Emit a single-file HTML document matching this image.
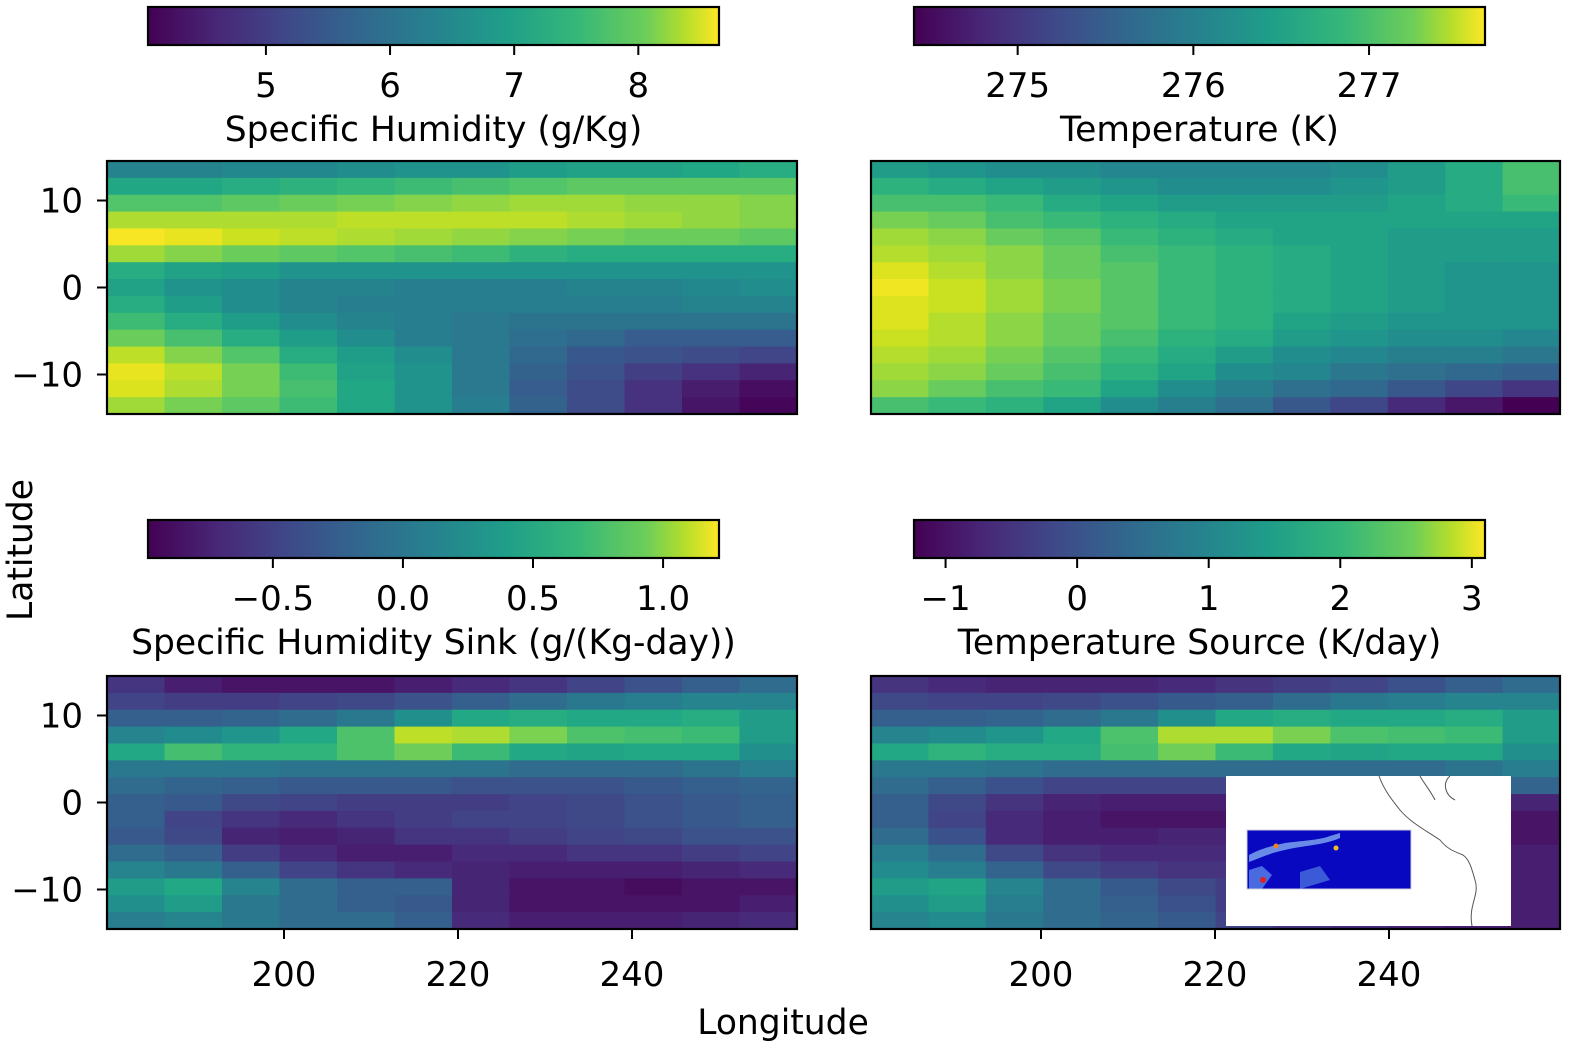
<!DOCTYPE html>
<html><head><meta charset="utf-8">
<style>
html,body{margin:0;padding:0;background:#fff;overflow:hidden;width:1579px;height:1054px;}
svg{display:block;}
svg text{font-family:"DejaVu Sans","Liberation Sans",sans-serif;font-size:34px;fill:#000;}
svg text.lab{font-size:34.5px;}
</style></head>
<body>
<svg id="fig" width="1579" height="1054" viewBox="0 0 1579 1054" xmlns="http://www.w3.org/2000/svg">
<defs>
<linearGradient id="viridisGrad" x1="0" x2="1" y1="0" y2="0">
<stop offset="0" stop-color="#440154"/><stop offset="0.125" stop-color="#482878"/><stop offset="0.25" stop-color="#3e4a89"/><stop offset="0.375" stop-color="#31688e"/><stop offset="0.5" stop-color="#26828e"/><stop offset="0.625" stop-color="#1f9e89"/><stop offset="0.75" stop-color="#35b779"/><stop offset="0.875" stop-color="#6ece58"/><stop offset="0.94" stop-color="#b5de2b"/><stop offset="1" stop-color="#fde725"/>
</linearGradient>
</defs>
<g id="layer"></g>
<text class="lab" x="783" y="1034" text-anchor="middle">Longitude</text>
<text class="lab" x="0" y="0" transform="translate(32,550) rotate(-90)" text-anchor="middle">Latitude</text>
</svg>
<script>
// ---------- data ----------
const humidityTicks = [5, 6, 7, 8];
const humidityRange = [4.05, 8.65];
const humidity = [
[6.1,6.1,6.2,6.2,6.3,6.4,6.4,6.6,6.7,6.7,6.8,6.9],
[6.8,6.8,6.9,7.0,7.1,7.2,7.3,7.4,7.5,7.5,7.5,7.5],
[7.4,7.4,7.5,7.6,7.7,7.8,7.9,8.0,8.0,7.9,7.9,7.8],
[8.1,8.1,8.1,8.1,8.2,8.2,8.2,8.2,8.1,8.0,7.9,7.8],
[8.6,8.5,8.3,8.2,8.1,8.0,7.9,7.8,7.7,7.6,7.6,7.5],
[8.0,7.8,7.6,7.5,7.4,7.3,7.2,7.0,6.9,6.9,6.9,6.9],
[6.9,6.7,6.6,6.4,6.4,6.4,6.4,6.4,6.4,6.4,6.4,6.4],
[6.7,6.4,6.3,6.1,6.1,6.0,6.0,6.0,6.1,6.1,6.2,6.3],
[6.9,6.6,6.3,6.1,6.0,6.0,6.0,6.0,6.0,6.0,6.1,6.1],
[7.2,6.9,6.6,6.3,6.1,6.0,5.9,5.8,5.8,5.8,5.8,5.8],
[7.6,7.3,6.9,6.6,6.3,6.0,5.9,5.7,5.6,5.4,5.4,5.4],
[8.2,7.8,7.4,6.9,6.6,6.3,5.9,5.6,5.3,5.2,5.1,5.0],
[8.5,8.2,7.7,7.2,6.7,6.4,5.9,5.5,5.2,4.9,4.7,4.5],
[8.4,8.1,7.7,7.3,6.8,6.4,5.9,5.4,5.1,4.7,4.4,4.2],
[8.0,7.7,7.5,7.2,6.8,6.4,6.0,5.5,5.1,4.7,4.3,4.1]
];
const temperatureTicks = [275, 276, 277];
const temperatureRange = [274.41, 277.66];
const temperature = [
[276.2,276.1,276.0,276.0,275.9,275.9,275.9,275.9,276.0,276.2,276.4,276.7],
[276.5,276.4,276.3,276.2,276.1,276.0,276.0,276.0,276.1,276.2,276.4,276.7],
[276.7,276.7,276.6,276.4,276.3,276.2,276.2,276.2,276.2,276.3,276.4,276.6],
[277.0,276.9,276.7,276.6,276.5,276.4,276.3,276.3,276.3,276.3,276.3,276.3],
[277.2,277.1,276.9,276.8,276.6,276.5,276.4,276.3,276.3,276.2,276.2,276.2],
[277.3,277.2,277.1,276.9,276.7,276.6,276.5,276.4,276.3,276.2,276.2,276.2],
[277.5,277.3,277.1,276.9,276.8,276.6,276.5,276.4,276.3,276.2,276.1,276.1],
[277.6,277.4,277.2,277.0,276.8,276.6,276.5,276.4,276.3,276.2,276.1,276.1],
[277.5,277.4,277.2,277.0,276.8,276.6,276.5,276.4,276.3,276.2,276.1,276.1],
[277.5,277.3,277.1,276.9,276.8,276.6,276.5,276.3,276.2,276.1,276.1,276.1],
[277.4,277.3,277.1,276.9,276.7,276.5,276.4,276.2,276.1,276.0,276.0,275.9],
[277.3,277.2,277.0,276.8,276.6,276.4,276.2,276.0,275.9,275.8,275.8,275.7],
[277.2,277.1,276.9,276.7,276.5,276.3,276.0,275.9,275.7,275.6,275.5,275.4],
[277.1,276.9,276.7,276.6,276.3,276.0,275.8,275.6,275.5,275.3,275.1,274.9],
[276.7,276.6,276.5,276.3,276.0,275.8,275.6,275.3,275.1,274.8,274.6,274.4]
];
const sinkTicks = [-0.5, 0.0, 0.5, 1.0];
const sinkTickLabels = ["\u22120.5", "0.0", "0.5", "1.0"];
const sinkRange = [-0.98, 1.215];
const sink = [
[-0.65,-0.80,-0.87,-0.87,-0.87,-0.80,-0.72,-0.65,-0.54,-0.43,-0.32,-0.21],
[-0.54,-0.58,-0.58,-0.54,-0.50,-0.43,-0.32,-0.21,-0.10,-0.06,0.01,0.01],
[-0.32,-0.32,-0.28,-0.21,-0.10,0.12,0.34,0.38,0.34,0.34,0.38,0.23],
[0.01,0.07,0.16,0.34,0.60,1.00,0.95,0.78,0.60,0.56,0.51,0.23],
[0.34,0.56,0.45,0.45,0.60,0.73,0.51,0.34,0.29,0.34,0.34,0.12],
[-0.10,-0.10,-0.10,-0.15,-0.15,-0.15,-0.15,-0.21,-0.21,-0.21,-0.15,-0.06],
[-0.21,-0.28,-0.32,-0.37,-0.37,-0.37,-0.43,-0.43,-0.43,-0.37,-0.32,-0.28],
[-0.32,-0.37,-0.50,-0.54,-0.58,-0.58,-0.58,-0.54,-0.50,-0.43,-0.37,-0.32],
[-0.32,-0.54,-0.65,-0.72,-0.65,-0.58,-0.54,-0.54,-0.50,-0.43,-0.37,-0.32],
[-0.37,-0.50,-0.76,-0.80,-0.76,-0.65,-0.65,-0.58,-0.54,-0.50,-0.43,-0.43],
[-0.21,-0.32,-0.58,-0.72,-0.80,-0.80,-0.72,-0.72,-0.65,-0.65,-0.58,-0.54],
[0.01,-0.10,-0.32,-0.54,-0.65,-0.72,-0.76,-0.80,-0.80,-0.80,-0.76,-0.72],
[0.23,0.34,0.01,-0.21,-0.32,-0.32,-0.76,-0.87,-0.87,-0.91,-0.87,-0.87],
[0.12,0.23,-0.10,-0.21,-0.32,-0.37,-0.76,-0.87,-0.87,-0.87,-0.87,-0.80],
[-0.06,0.01,-0.10,-0.21,-0.21,-0.32,-0.72,-0.80,-0.80,-0.80,-0.76,-0.72]
];
const sourceTicks = [-1, 0, 1, 2, 3];
const sourceTickLabels = ["\u22121", "0", "1", "2", "3"];
const sourceRange = [-1.24, 3.1];
const source = [
[-0.59,-0.72,-0.81,-0.81,-0.81,-0.72,-0.59,-0.46,-0.37,-0.16,0.06,0.28],
[-0.29,-0.37,-0.37,-0.29,-0.16,-0.02,0.06,0.28,0.50,0.58,0.71,0.71],
[0.06,0.06,0.15,0.28,0.50,0.93,1.36,1.45,1.36,1.36,1.45,1.15],
[0.71,0.84,1.02,1.36,1.88,2.58,2.58,2.23,1.88,1.80,1.71,1.15],
[1.36,1.58,1.45,1.45,1.80,2.15,1.71,1.36,1.28,1.36,1.36,0.93],
[0.50,0.50,0.41,0.28,0.28,0.28,0.28,0.28,0.28,0.28,0.41,0.58],
[0.28,0.06,-0.16,-0.37,-0.37,-0.37,-0.37,-0.29,-0.16,-0.02,0.06,0.15],
[0.06,-0.29,-0.59,-0.81,-0.89,-0.89,-0.89,-0.81,-0.81,-0.81,-0.81,-0.81],
[0.06,-0.37,-0.72,-0.89,-1.02,-1.02,-1.02,-1.02,-1.02,-1.02,-1.02,-1.02],
[0.28,-0.16,-0.72,-0.89,-0.89,-0.81,-0.81,-0.81,-0.81,-0.81,-0.89,-1.02],
[0.58,0.28,-0.29,-0.59,-0.72,-0.72,-0.72,-0.72,-0.72,-0.72,-0.81,-0.89],
[0.84,0.58,0.15,-0.29,-0.46,-0.59,-0.59,-0.59,-0.72,-0.81,-0.89,-0.89],
[1.15,1.28,0.71,0.28,-0.02,-0.29,-0.46,-0.59,-0.72,-0.81,-0.89,-0.89],
[0.93,1.15,0.58,0.28,0.06,-0.16,-0.46,-0.59,-0.72,-0.81,-0.89,-0.89],
[0.71,0.84,0.50,0.28,0.15,-0.02,-0.37,-0.59,-0.72,-0.81,-0.89,-0.89]
];
const lonTicks = [200, 220, 240];
const latTicks = [10, 0, -10];
const latTickLabels = ["10", "0", "\u221210"];

// ---------- viridis colormap ----------
const VIR = ["#440154","#481a6c","#472f7d","#414487","#39568c","#31688e","#2a788e","#23888e","#1f988b","#22a884","#35b779","#54c568","#7ad151","#a5db36","#d2e21b","#fde725"];
function hex(c){return [parseInt(c.slice(1,3),16),parseInt(c.slice(3,5),16),parseInt(c.slice(5,7),16)];}
function viridis(t){
  t=Math.max(0,Math.min(1,t));
  const p=t*(VIR.length-1), i=Math.min(VIR.length-2,Math.floor(p)), f=p-i;
  const a=hex(VIR[i]), b=hex(VIR[i+1]);
  return "rgb("+a.map((v,k)=>Math.round(v+(b[k]-v)*f)).join(",")+")";
}

const NS="http://www.w3.org/2000/svg";
const layer=document.getElementById('layer');
function mk(tag,attrs,parent){const e=document.createElementNS(NS,tag);for(const k in attrs)e.setAttribute(k,attrs[k]);(parent||layer).appendChild(e);return e;}

const panels=[
 {name:'humidity', data:humidity, range:humidityRange, ticks:humidityTicks, tickLabels:humidityTicks.map(String), label:'Specific Humidity (g/Kg)', ax:[107,161,797,414], lon200:284, cb:[148,7,719,45], showLon:false, showLat:true},
 {name:'temperature', data:temperature, range:temperatureRange, ticks:temperatureTicks, tickLabels:temperatureTicks.map(String), label:'Temperature (K)', ax:[871,161,1560,414], lon200:1041, cb:[914,7,1485,45], showLon:false, showLat:false},
 {name:'humidity-sink', data:sink, range:sinkRange, ticks:sinkTicks, tickLabels:sinkTickLabels, label:'Specific Humidity Sink (g/(Kg-day))', ax:[107,676,797,929], lon200:284, cb:[148,520,719,558], showLon:true, showLat:true},
 {name:'temperature-source', data:source, range:sourceRange, ticks:sourceTicks, tickLabels:sourceTickLabels, label:'Temperature Source (K/day)', ax:[871,676,1560,929], lon200:1041, cb:[914,520,1485,558], showLon:true, showLat:false}
];
const DEG=8.7;

panels.forEach(p=>{
  const [x0,y0,x1,y1]=p.ax;
  const g=mk('g',{});
  
  
  const xScale=lon=>p.lon200+(lon-200)*DEG;
  const yScale=lat=>(y0+y1)/2 - lat*DEG;
  const lonMin=200-(p.lon200-x0)/DEG, lonMax=200+(x1-p.lon200)/DEG;
  const latMax=((y0+y1)/2-y0)/DEG, latMin=-latMax;
  const nR=p.data.length, nC=p.data[0].length;
  const dLon=(lonMax-lonMin)/nC, dLat=(latMax-latMin)/nR;
  const norm=v=>(v-p.range[0])/(p.range[1]-p.range[0]);
  for(let r=0;r<nR;r++){
    for(let c=0;c<nC;c++){
      const xa=xScale(lonMin+c*dLon), xb=xScale(lonMin+(c+1)*dLon);
      const ya=yScale(latMax-r*dLat), yb=yScale(latMax-(r+1)*dLat);
      const cell=mk('rect',{x:xa.toFixed(2),y:ya.toFixed(2),width:(xb-xa+0.6).toFixed(2),height:(yb-ya+0.6).toFixed(2),fill:viridis(norm(p.data[r][c]))},g);
      
      
    }
  }
  const frame=mk('rect',{x:x0,y:y0,width:x1-x0,height:y1-y0,fill:'none',stroke:'#000','stroke-width':2.2},g);
  
  
  if(p.showLat){
    latTicks.forEach((t,i)=>{
      const y=yScale(t);
      mk('line',{x1:x0-10,x2:x0,y1:y,y2:y,stroke:'#000','stroke-width':2},g);
      const tx=mk('text',{x:x0-24,y:y+12,'text-anchor':'end'},g);
      tx.textContent=latTickLabels[i];
      
      
    });
  }
  if(p.showLon){
    lonTicks.forEach(t=>{
      const x=xScale(t);
      mk('line',{x1:x,x2:x,y1:y1,y2:y1+10,stroke:'#000','stroke-width':2},g);
      const tx=mk('text',{x:x,y:y1+57,'text-anchor':'middle'},g);
      tx.textContent=String(t);
      
      
    });
  }
  const [cx0,cy0,cx1,cy1]=p.cb;
  const cb=mk('g',{},g);
  
  
  mk('rect',{x:cx0,y:cy0,width:cx1-cx0,height:cy1-cy0,fill:'url(#viridisGrad)',stroke:'#000','stroke-width':2.2},cb);
  const cbScale=v=>cx0+(v-p.range[0])/(p.range[1]-p.range[0])*(cx1-cx0);
  p.ticks.forEach((t,i)=>{
    const x=cbScale(t);
    mk('line',{x1:x,x2:x,y1:cy1,y2:cy1+10,stroke:'#000','stroke-width':2},cb);
    const tx=mk('text',{x:x,y:cy1+52,'text-anchor':'middle'},cb);
    tx.textContent=p.tickLabels[i];
    
    
  });
  const lab=mk('text',{x:(cx0+cx1)/2,y:cy1+96,'text-anchor':'middle','class':'lab'},cb);
  lab.textContent=p.label;
  
  
});

// inset map
const inset=mk('g',{});


mk('rect',{x:1226,y:776,width:285,height:150,fill:'#fff'},inset);
mk('rect',{x:1247,y:830,width:164,height:59,fill:'#0808c0'},inset);
mk('path',{d:'M1249,855 C1262,848 1272,846 1285,843 C1300,841 1320,840 1330,836 L1340,833 L1340,838 C1325,845 1300,846 1285,850 C1270,853 1260,858 1249,862 Z',fill:'#6a8ae8'},inset);
mk('path',{d:'M1249,870 L1262,866 L1272,875 L1262,889 L1249,889 Z',fill:'#4a6ae0'},inset);
mk('path',{d:'M1300,872 L1320,866 L1330,880 L1300,889 Z',fill:'#3a5ad8'},inset);
mk('circle',{cx:1276,cy:846,r:2.5,fill:'#f08020'},inset);
mk('circle',{cx:1263,cy:880,r:3,fill:'#e02020'},inset);
mk('circle',{cx:1336,cy:848,r:2.5,fill:'#f0c020'},inset);
mk('rect',{x:1247,y:830,width:164,height:59,fill:'none',stroke:'#ccd','stroke-width':1},inset);
const coast=mk('path',{d:'M1379,776 C1384,790 1392,800 1400,810 C1410,822 1425,830 1440,840 C1448,850 1456,852 1463,855 C1470,860 1472,870 1475,880 C1480,895 1468,905 1472,926 M1420,776 C1425,785 1430,790 1435,800 M1450,776 C1442,783 1445,795 1455,800',fill:'none',stroke:'#555','stroke-width':1},inset);


</script>
</body></html>
